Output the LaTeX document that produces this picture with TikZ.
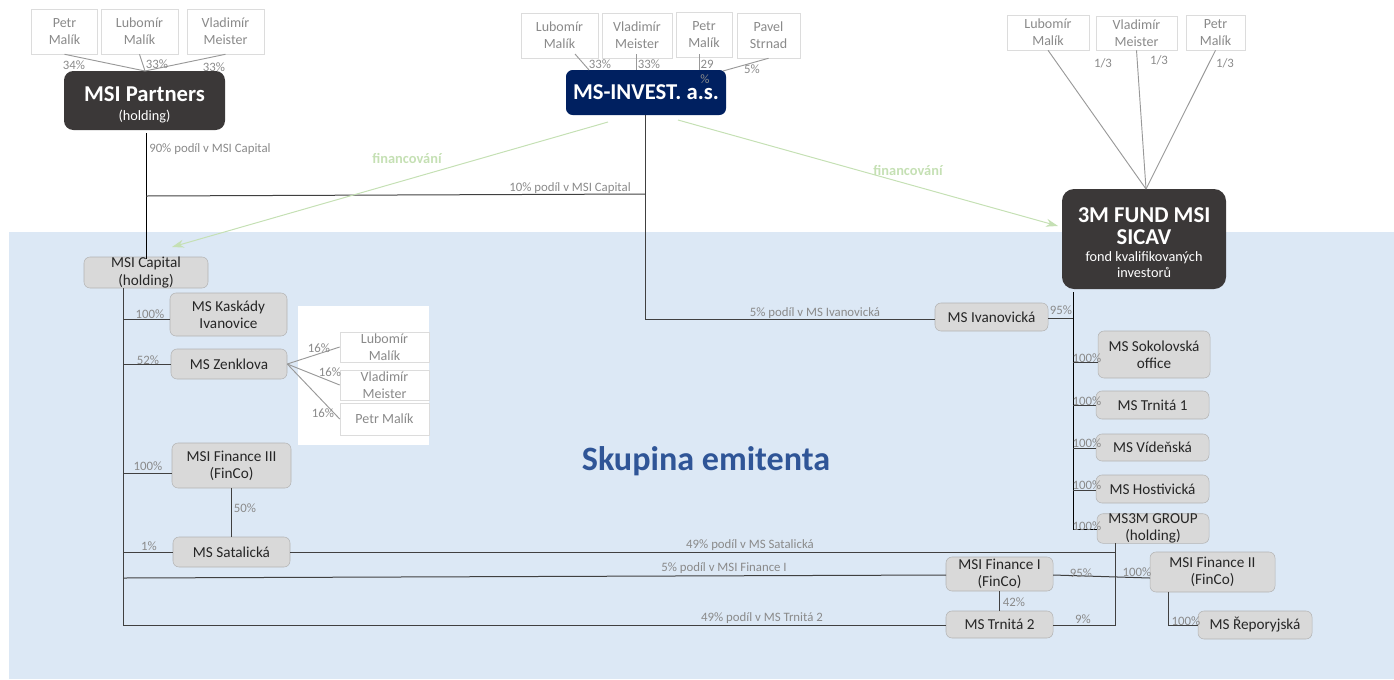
\documentclass[tikz,border=0pt]{standalone}
\usepackage{fontspec}
\setmainfont{Carlito}
\usepackage{xcolor}
\definecolor{colorGroup}{HTML}{DCE8F5}
\definecolor{colorBox}{HTML}{D9D9D9}
\definecolor{colorBoxLine}{HTML}{B4B4B4}
\definecolor{colorDark}{HTML}{3B3838}
\definecolor{colorNavy}{HTML}{002060}
\definecolor{colorOwner}{HTML}{DCDCDC}
\definecolor{colorShare}{HTML}{8A8A8A}
\definecolor{colorFinance}{HTML}{C5E0B4}
\definecolor{colorTitle}{HTML}{2F5597}
\definecolor{colorLink}{HTML}{404040}
\usetikzlibrary{arrows.meta}
\newcommand{\bigname}{\fontsize{17}{18}\selectfont\bfseries}
\newcommand{\subname}{\fontsize{10.7}{11.4}\selectfont}
\tikzset{
  wh/.style 2 args={minimum width=#1*0.75pt, minimum height=#2*0.75pt},
  company/.style={draw=colorBoxLine, fill=colorBox, rounded corners=4.5pt, align=center, inner sep=0pt, font=\fontsize{11.4}{12.8}\selectfont, text=black!85},
  owner/.style={draw=colorOwner, fill=white, align=center, inner sep=0pt, font=\fontsize{10.5}{12.8}\selectfont, text=colorShare},
  parent/.style={fill=colorDark, rounded corners=7pt, align=center, inner sep=0pt, text=white},
  share/.style={text=colorShare, inner sep=0pt, yshift=-0.8pt, font=\fontsize{9.6}{11}\selectfont},
  link/.style={draw=colorLink, line width=0.75pt},
  ownerlink/.style={draw=black!40, line width=0.7pt},
  finance/.style={draw=colorFinance, line width=0.75pt, -{Stealth[length=9pt,width=6pt]}},
  financelabel/.style={text=colorFinance, inner sep=0pt, font=\fontsize{10.8}{12}\selectfont\bfseries}
}
\begin{document}
\begin{tikzpicture}[x=0.75pt, y=-0.75pt]
\useasboundingbox (0,0) rectangle (1394,679);
\fill[colorGroup] (9,232) rectangle (1394,679);
\fill[white] (298,306) rectangle (429,445);
\node[text=colorTitle, inner sep=0pt, font=\fontsize{25.6}{28}\selectfont\bfseries] (title) at (706,461) {Skupina emitenta};

\node[owner, wh={66}{45}] (o11) at (64.5,31.5) {Petr\\Malík};
\node[owner, wh={77}{45}] (o12) at (139.5,31.5) {Lubomír\\Malík};
\node[owner, wh={77}{45}] (o13) at (225.5,31.5) {Vladimír\\Meister};
\node[parent, wh={161}{59}] (partners) at (144.5,100.5) {\rule{0pt}{18pt}\bigname MSI Partners\\[2.3pt]\subname (holding)};

\node[owner, wh={77}{45}] (o21) at (559.5,35.5) {Lubomír\\Malík};
\node[owner, wh={70}{45}] (o22) at (637,35.5) {Vladimír\\Meister};
\node[owner, wh={56}{45}] (o23) at (704,34.5) {Petr\\Malík};
\node[owner, wh={63}{45}] (o24) at (768.5,35.5) {Pavel\\Strnad};
\node[parent, fill=colorNavy, rounded corners=5pt, wh={160}{45}] (invest) at (646,92.5) {\bigname MS-INVEST. a.s.};

\node[owner, wh={82}{35}] (o31) at (1048,32.5) {Lubomír\\Malík};
\node[owner, wh={81}{34}] (o32) at (1136.5,33) {Vladimír\\Meister};
\node[owner, wh={59}{35}] (o33) at (1215.5,32.5) {Petr\\Malík};
\node[parent, rounded corners=9pt, wh={164}{100}] (fund) at (1144,239) {\rule{0pt}{16.5pt}\bigname 3M FUND MSI\\[4.5pt]\bigname SICAV\\[1pt]\subname fond kvalifikovaných\\\subname investorů};

\node[company, wh={124}{31}] (capital) at (146,272.5) {MSI Capital\\(holding)};
\node[company, wh={117}{43}] (kaskady) at (228.5,314.5) {MS Kaskády\\Ivanovice};
\node[company, wh={116}{30}] (zenklova) at (229,364) {MS Zenklova};
\node[owner, wh={89}{30}, anchor=center] (o41) at (384.5,347) {Lubomír\\Malík};
\node[owner, wh={89}{30}] (o42) at (384.5,385) {Vladimír\\Meister};
\node[owner, wh={89}{32}] (o43) at (384.5,419) {Petr Malík};
\node[company, wh={119}{45}] (finance3) at (231.5,465.5) {MSI Finance III\\(FinCo)};
\node[company, wh={117}{30}] (satalicka) at (231.5,552) {MS Satalická};

\node[company, wh={113}{28}] (ivanovicka) at (991.5,317) {MS Ivanovická};
\node[company, wh={112}{47}] (sokolovska) at (1154,354.5) {MS Sokolovská\\office};
\node[company, wh={113}{28}] (trnita1) at (1152.5,405) {MS Trnitá 1};
\node[company, wh={113}{27}] (videnska) at (1152.5,447.5) {MS Vídeňská};
\node[company, wh={113}{28}] (hostivicka) at (1152.5,489) {MS Hostivická};
\node[company, wh={112}{29}] (group3m) at (1153,528.5) {MS3M GROUP\\(holding)};
\node[company, wh={107}{34}] (finance1) at (999.5,574) {MSI Finance I\\(FinCo)};
\node[company, wh={107}{27}] (trnita2) at (999.5,624.5) {MS Trnitá 2};
\node[company, wh={125}{40}] (finance2) at (1212.5,572) {MSI Finance II\\(FinCo)};
\node[company, wh={114}{28}] (reporyjska) at (1255,625) {MS Řeporyjská};

\coordinate (jPartners) at (146,133);
\coordinate (jPartnersBus) at (146,196);
\coordinate (jInvestBus) at (645,194);
\coordinate (jInvestBottom) at (645,319);
\coordinate (jCapitalIn) at (146,259);
\coordinate (jBusTop) at (123,288);
\coordinate (jBusBottom) at (123,625);
\coordinate (jKaskady) at (123,319);
\coordinate (jZenklova) at (123,364.5);
\coordinate (jFinance3) at (123,473);
\coordinate (jSatalicka) at (123,552);
\coordinate (jFinance1) at (123,578);
\coordinate (jFundTop) at (1073,292);
\coordinate (jFundBottom) at (1073,529);
\coordinate (jIvanovicka) at (1073,318);
\coordinate (jSokolovska) at (1073,362);
\coordinate (jTrnita1) at (1073,405);
\coordinate (jVidenska) at (1073,448);
\coordinate (jHostivicka) at (1073,490);
\coordinate (jGroupTop) at (1115,543);
\coordinate (jGroupSatalicka) at (1115,552);
\coordinate (jGroupBottom) at (1115,625);
\coordinate (jFinance2Down) at (1168,625);
\coordinate (jFinance2Top) at (1168,592);
\coordinate (jFinance2In) at (1150,578);
\coordinate (jFinance1Out) at (1053,575);
\coordinate (jFinance1In) at (946,575);
\coordinate (jMerge1) at (145,71);
\coordinate (jMerge3) at (1146,189);

\draw[ownerlink] (o11.south) -- (jMerge1);
\draw[ownerlink] (o12.south) -- (jMerge1);
\draw[ownerlink] (o13.south) -- (jMerge1);
\draw[ownerlink] (575,54) coordinate (jo21) -- (589,70) coordinate (ji21);
\draw[ownerlink] (636,54) coordinate (jo22) -- (jo22 |- invest.north);
\draw[ownerlink] (699,54) coordinate (jo23) -- (jo23 |- invest.north);
\draw[ownerlink] (o24.south) -- (723,71) coordinate (ji24);
\draw[ownerlink] (o31.south) -- (jMerge3);
\draw[ownerlink] (o32.south) -- (jMerge3);
\draw[ownerlink] (o33.south) -- (jMerge3);
\draw[ownerlink] (zenklova.east) -- (o41.west);
\draw[ownerlink] (zenklova.east) -- (o42.west);
\draw[ownerlink] (zenklova.east) -- (o43.west);

\draw[link, black] (jPartners) -- (jCapitalIn);
\draw[link] (jPartnersBus) -- (jInvestBus);
\draw[link] (invest.south -| jInvestBus) -- (jInvestBottom) -- (jInvestBottom -| ivanovicka.west);
\draw[link] (jBusTop) -- (jBusBottom) -- (jBusBottom -| trnita2.west);
\draw[link] (jKaskady) -- (jKaskady -| kaskady.west);
\draw[link] (jZenklova) -- (jZenklova -| zenklova.west);
\draw[link] (jFinance3) -- (jFinance3 -| finance3.west);
\draw[link] (jSatalicka) -- (jSatalicka -| satalicka.west);
\draw[link] (finance3.south) -- (satalicka.north);
\draw[link] (jFinance1) -- (jFinance1In);
\draw[link] (satalicka.east) -- (jGroupSatalicka);
\draw[link] (jGroupTop) -- (jGroupBottom) -- (jGroupBottom -| trnita2.east);
\draw[link] (finance1.south) -- (trnita2.north);
\draw[link] (jFinance1Out) -- (jFinance2In);
\draw[link] (jFinance2Top) -- (jFinance2Down) -- (jFinance2Down -| reporyjska.west);
\draw[link, black] (jFundTop) -- (jFundBottom) -- (jFundBottom -| group3m.west);
\draw[link] (jIvanovicka -| ivanovicka.east) -- (jIvanovicka);
\draw[link] (jSokolovska) -- (jSokolovska -| sokolovska.west);
\draw[link] (jTrnita1) -- (jTrnita1 -| trnita1.west);
\draw[link] (jVidenska) -- (jVidenska -| videnska.west);
\draw[link] (jHostivicka) -- (jHostivicka -| hostivicka.west);

\coordinate (jFinanceLeft) at (608,122);
\coordinate (jFinanceRight) at (678,120);
\coordinate (jCapitalArrow) at (172,247);
\coordinate (jFundArrow) at (1058,226);
\draw[finance] (jFinanceLeft) -- (jCapitalArrow);
\draw[finance] (jFinanceRight) -- (jFundArrow);
\node[financelabel] (fin1) at (407,158) {financování};
\node[financelabel] (fin2) at (908,170) {financování};

\node[share] (s11) at (74,64) {34\%};
\node[share] (s12) at (157,63) {33\%};
\node[share] (s13) at (214,66) {33\%};
\node[share] (s21) at (600,63) {33\%};
\node[share] (s22) at (649,63) {33\%};
\node[share] (s23) at (707,63) {29};
\node[share] (s23b) at (705,78) {\%};
\node[share] (s24) at (752,68) {5\%};
\node[share] (s31) at (1103,62) {1/3};
\node[share] (s32) at (1159,59) {1/3};
\node[share] (s33) at (1225,62) {1/3};
\node[share, anchor=west] (s90) at (149,148) {90\% podíl v MSI Capital};
\node[share] (s10) at (570,187) {10\% podíl v MSI Capital};
\node[share] (s5iv) at (815,312) {5\% podíl v MS Ivanovická};
\node[share] (s49s) at (750,544) {49\% podíl v MS Satalická};
\node[share] (s5fi) at (724,567) {5\% podíl v MSI Finance I};
\node[share] (s49t) at (762,617) {49\% podíl v MS Trnitá 2};
\node[share] (skas) at (150,313) {100\%};
\node[share] (szen) at (148,359) {52\%};
\node[share] (sfi3) at (148,465) {100\%};
\node[share] (ssat) at (149,545) {1\%};
\node[share] (s50) at (245,507) {50\%};
\node[share] (so41) at (319,347) {16\%};
\node[share] (so42) at (330,371) {16\%};
\node[share] (so43) at (323,412) {16\%};
\node[share] (siv) at (1061,309) {95\%};
\node[share] (ssok) at (1087,357) {100\%};
\node[share] (str1) at (1087,400) {100\%};
\node[share] (svid) at (1087,442) {100\%};
\node[share] (shos) at (1087,484) {100\%};
\node[share] (sgrp) at (1087,525) {100\%};
\node[share] (s42) at (1014,601) {42\%};
\node[share] (s9) at (1083,618) {9\%};
\node[share] (s95) at (1081,572) {95\%};
\node[share] (sfi2) at (1137,571) {100\%};
\node[share] (srep) at (1186,620) {100\%};
\end{tikzpicture}
\end{document}
